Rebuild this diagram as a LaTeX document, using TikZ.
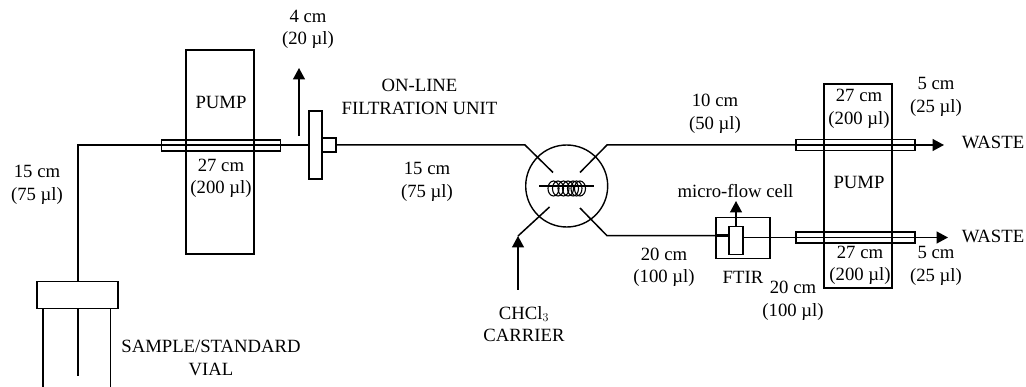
\documentclass[tikz,border=0pt]{standalone}
\usepackage{fontspec}
\setmainfont{Liberation Serif}
\usetikzlibrary{arrows.meta}
\tikzset{
  every picture/.style={x=1pt,y=-1pt},
  lbl/.style={font=\fontsize{18.7}{22.5}\selectfont,inner sep=0pt,anchor=center,align=center},
  part/.style={draw=black,line width=1.4pt,inner sep=0pt},
  pipe/.style={draw=black,line width=1.5pt,line join=miter},
  flow/.style={pipe,-{Triangle[length=11.5pt,width=12pt]}},
  coil/.style={draw=black,line width=1.1pt}
}
\newcommand{\boxnode}[5]{\node[part,minimum width=#4pt,minimum height=#5pt] (#1) at (#2,#3) {};}
\begin{document}
\begin{tikzpicture}
\path[use as bounding box] (0,0) rectangle (1026,387);
% parts
\boxnode{pumpA}{220}{152}{68}{204}
\boxnode{tubeA}{221}{145.5}{119}{11}
\boxnode{filter}{315.5}{145}{13}{68}
\boxnode{stub}{329}{145}{14}{14}
\boxnode{cap}{77.5}{295}{81}{27}
\boxnode{pumpB}{858}{186}{68}{204}
\boxnode{tubeB}{855.5}{145}{119}{11}
\boxnode{tubeC}{855.5}{237.5}{119}{11}
\boxnode{ftir}{743}{238}{54}{41}
\boxnode{cell}{736}{240.5}{14}{27.5}
\node[part,circle,minimum size=82pt] (valve) at (566.7,186) {};
% named free ends
\coordinate (bendA) at (78,145);
\coordinate (ventTail) at (299,136);
\coordinate (ventTip) at (299,68);
\coordinate (bendB) at (525,145);
\coordinate (portA) at (553,172.5);
\coordinate (portB) at (580,172.5);
\coordinate (bendC) at (607,145);
\coordinate (portC) at (580,208);
\coordinate (bendD) at (607,235.7);
\coordinate (portD) at (549.5,207);
\coordinate (bendE) at (518,236);
\coordinate (carrierTail) at (518,290);
\coordinate (wasteA) at (944,145);
\coordinate (wasteB) at (948,237.5);
\coordinate (cellTip) at (736,201);
\coordinate (coilL) at (539,186);
\coordinate (coilR) at (594,186);
\coordinate (vialL) at (43,387);
\coordinate (vialM) at (78,376);
\coordinate (vialR) at (110.5,387);
% connectors
\draw[pipe] (cap.north -| bendA) -- (bendA) -- (tubeA.west |- bendA);
\draw[pipe] (tubeA.west |- bendA) -- (tubeA.east |- bendA);
\draw[pipe] (tubeA.east |- bendA) -- (filter.west |- bendA);
\draw[flow] (ventTail) -- (ventTip);
\draw[pipe] (stub.east) -- (bendB) -- (portA);
\draw[pipe] (portB) -- (bendC) -- (tubeB.west);
\draw[pipe] (tubeB.west) -- (tubeB.east);
\draw[flow] (tubeB.east) -- (wasteA);
\draw[pipe] (portC) -- (bendD) -- (cell.west |- bendD);
\draw[pipe,line width=2.4pt] (ftir.west |- bendD) -- (cell.west |- bendD);
\draw[pipe] (cell.east |- tubeC) -- (tubeC.west);
\draw[pipe] (tubeC.west) -- (tubeC.east);
\draw[flow] (tubeC.east) -- (wasteB);
\draw[flow] (cell.north) -- (cellTip);
\draw[flow] (carrierTail) -- (bendE);
\draw[pipe] (bendE) -- (portD);
\draw[pipe] (cap.south -| vialL) -- (vialL);
\draw[pipe] (cap.south -| vialM) -- (vialM);
\draw[pipe] (cap.south -| vialR) -- (vialR);
% coil
\draw[pipe] (coilL) -- (coilR);
\foreach \cx in {553.5,558,563.5,568,573,576.5,580}{\draw[coil] (\cx,188.5) ellipse [x radius=5.5,y radius=7.5];}
% labels
\node[lbl] (l1) at (308,29.5) {4 cm\\(20 µl)};
\node[lbl] (l2) at (221,102) {PUMP};
\node[lbl] (l3) at (221,178.5) {27 cm\\(200 µl)};
\node[lbl] (l4) at (37,185) {15 cm\\(75 µl)};
\node[lbl] (l5) at (211,358) {SAMPLE/STANDARD\\VIAL};
\node[lbl] (l6) at (419.5,97) {ON-LINE\\FILTRATION UNIT};
\node[lbl] (l7) at (427,182) {15 cm\\(75 µl)};
\node[lbl] (l8) at (715,114) {10 cm\\(50 µl)};
\node[lbl] (l9) at (735.5,191) {micro-flow cell};
\node[lbl] (l10) at (664,267.5) {20 cm\\(100 µl)};
\node[lbl] (l11) at (743,277) {FTIR};
\node[lbl] (l12) at (793,301) {20 cm\\(100 µl)};
\node[lbl] (l13) at (936,97) {5 cm\\(25 µl)};
\node[lbl] (l14) at (859,109) {27 cm\\(200 µl)};
\node[lbl] (l15) at (859,182) {PUMP};
\node[lbl] (l16) at (993,142) {WASTE};
\node[lbl] (l17) at (993,236) {WASTE};
\node[lbl] (l18) at (860,265.5) {27 cm\\(200 µl)};
\node[lbl] (l19) at (936,266) {5 cm\\(25 µl)};
\node[lbl] (l20) at (524,324) {CHCl$_3$\\CARRIER};
\end{tikzpicture}
\end{document}
